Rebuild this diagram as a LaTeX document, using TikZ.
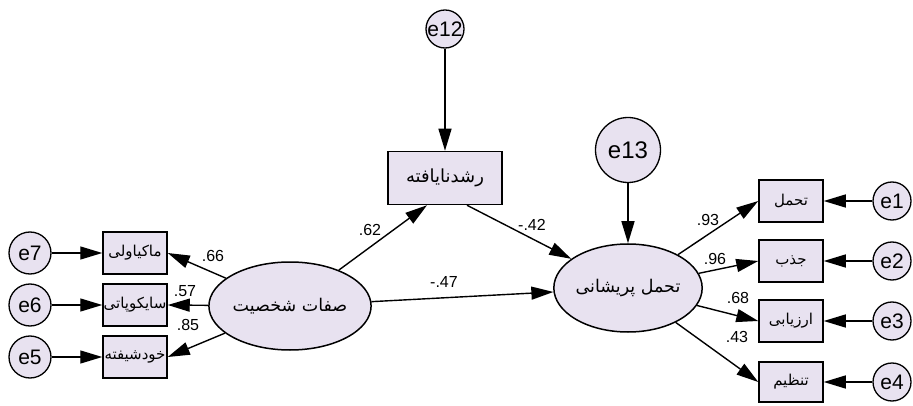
\documentclass[tikz,border=0pt]{standalone}
\usepackage{fontspec}
\setmainfont{Liberation Sans}
\newfontfamily\fa[Script=Arabic]{DejaVu Sans}
\TeXXeTstate=1
\usetikzlibrary{arrows.meta,shapes.geometric}
\definecolor{fillc}{RGB}{232,226,240}
\tikzset{
  obs/.style={draw, line width=1.5pt, fill=fillc, minimum width=64pt, minimum height=42pt, inner sep=0pt, font=\fa\fontsize{15}{16}\selectfont},
  err/.style={circle, draw, line width=1.3pt, fill=fillc, minimum size=40pt, inner sep=0pt, font=\fontsize{21}{22}\selectfont},
  lat/.style={ellipse, draw, line width=1.5pt, fill=fillc, minimum width=130pt, minimum height=88pt, inner sep=0pt, font=\fa\fontsize{17.5}{18}\selectfont},
  arr/.style={-{Triangle[length=22pt,width=13pt]}, line width=1.4pt},
  coef/.style={font=\fontsize{16}{17}\selectfont, inner sep=0pt}
}
\begin{document}
\begin{tikzpicture}[x=1pt,y=-1pt]
\useasboundingbox (0,0) rectangle (913,406);
% latent / central nodes
\node[err, minimum size=38pt] (e12) at (445,29) {e12};
\node[obs, minimum width=114pt, minimum height=53pt, font=\fa\fontsize{18}{19}\selectfont] (rosh) at (445,178) {\beginR رشدنایافته\endR};
\node[lat] (sefat) at (290,306) {\beginR صفات شخصیت\endR};
\node[lat] (tp) at (628,288) {\beginR تحمل پریشانی\endR};
\node[err, minimum size=65pt, font=\fontsize{24}{25}\selectfont] (e13) at (628,150) {e13};
% right observed
\node[obs] (b1) at (791,201) {\beginR تحمل\endR};
\node[obs] (b2) at (791,261) {\beginR جذب\endR};
\node[obs] (b3) at (791,321) {\beginR ارزیابی\endR};
\node[obs, minimum height=40pt] (b4) at (791,382) {\beginR تنظیم\endR};
\node[err, minimum size=38pt] (e1) at (892,201) {e1};
\node[err, minimum size=38pt] (e2) at (892,261) {e2};
\node[err, minimum size=38pt] (e3) at (892,321) {e3};
\node[err, minimum size=38pt] (e4) at (892,382) {e4};
% left observed
\node[obs] (l7) at (135,253) {\beginR ماکیاولی\endR};
\node[obs] (l6) at (135,305) {\beginR سایکوپاتی\endR};
\node[obs] (l5) at (135,357) {\beginR خودشیفته\endR};
\node[err, minimum size=42pt] (e7) at (30,253) {e7};
\node[err, minimum size=42pt] (e6) at (30,305) {e6};
\node[err, minimum size=42pt] (e5) at (30,357) {e5};
% connectors
\draw[arr] (e12) -- (rosh);
\draw[arr] (e13) -- (tp);
\draw[arr] (sefat) -- ([xshift=-18pt]rosh.south);
\draw[arr] ([xshift=22pt]rosh.south) -- (tp);
\draw[arr] (sefat) -- (tp);
\draw[arr] (sefat) -- (l7.east);
\draw[arr] (sefat) -- (l6.east);
\draw[arr] (sefat) -- (l5.east);
\draw[arr] (e7) -- (l7);
\draw[arr] (e6) -- (l6);
\draw[arr] (e5) -- (l5);
\draw[arr] (tp) -- (b1.west);
\draw[arr] (tp) -- (b2.west);
\draw[arr] (tp) -- (b3.west);
\draw[arr] (tp) -- (b4.west);
\draw[arr] (e1) -- (b1);
\draw[arr] (e2) -- (b2);
\draw[arr] (e3) -- (b3);
\draw[arr] (e4) -- (b4);
% coefficients
\node[coef] (c66) at (213,256) {.66};
\node[coef] (c57) at (185,291) {.57};
\node[coef] (c85) at (188,325) {.85};
\node[coef] (c62) at (370,230) {.62};
\node[coef] (c42) at (532,225) {-.42};
\node[coef] (c47) at (444,282) {-.47};
\node[coef] (c93) at (708,220) {.93};
\node[coef] (c96) at (715,259) {.96};
\node[coef] (c68) at (738,298) {.68};
\node[coef] (c43) at (737,337) {.43};
\end{tikzpicture}
\end{document}
